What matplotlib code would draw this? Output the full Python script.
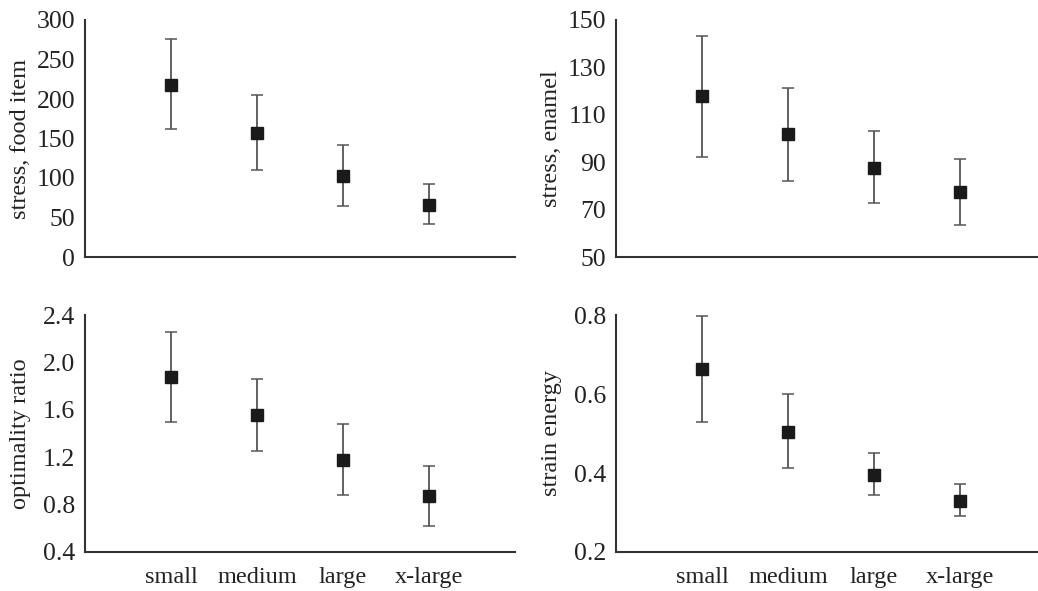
import numpy as np
import matplotlib.pyplot as plt

# size classes
sizes = ["small", "medium", "large", "x-large"]

# stress, food item
food_mean = [218, 157, 102, 66]
food_low = [162, 110, 65, 42]
food_high = [276, 205, 142, 92]

# stress, enamel
enamel_mean = [118, 102, 87.5, 77.4]
enamel_low = [92.4, 82.1, 72.9, 63.3]
enamel_high = [143.2, 121.3, 103, 91.3]

# optimality ratio
ratio_mean = [1.88, 1.555, 1.175, 0.87]
ratio_low = [1.50, 1.254, 0.884, 0.62]
ratio_high = [2.256, 1.859, 1.476, 1.124]

# strain energy
strain_mean = [0.663, 0.505, 0.396, 0.329]
strain_low = [0.530, 0.412, 0.344, 0.290]
strain_high = [0.798, 0.601, 0.450, 0.371]

plt.rcParams['font.family'] = ['Liberation Serif', 'DejaVu Serif']
plt.rcParams['font.size'] = 17.5

fig = plt.figure(figsize=(10.38, 5.91), dpi=100)

W, H = 1038, 591
boxes = [
    (85, 20, 515, 257),
    (616, 20, 1037, 257),
    (85, 315, 515, 552),
    (616, 315, 1037, 552),
]

panels = [
    (food_mean, food_low, food_high, "stress, food item", (0, 300), [0, 50, 100, 150, 200, 250, 300], "{:.0f}"),
    (enamel_mean, enamel_low, enamel_high, "stress, enamel", (50, 150), [50, 70, 90, 110, 130, 150], "{:.0f}"),
    (ratio_mean, ratio_low, ratio_high, "optimality ratio", (0.4, 2.4), [0.4, 0.8, 1.2, 1.6, 2.0, 2.4], "{:.1f}"),
    (strain_mean, strain_low, strain_high, "strain energy", (0.2, 0.8), [0.2, 0.4, 0.6, 0.8], "{:.1f}"),
]

x = np.arange(1, len(sizes) + 1)

for i, ((mean, low, high, label, ylim, yt, fmt), (l, t, r, b)) in enumerate(zip(panels, boxes)):
    ax = fig.add_axes([l / W, 1 - b / H, (r - l) / W, (b - t) / H])
    mean = np.array(mean)
    err = [mean - np.array(low), np.array(high) - mean]
    ax.errorbar(x, mean, yerr=err, fmt='none', ecolor='#555555', elinewidth=1.3,
                capsize=4, capthick=1.1, zorder=2)
    ax.plot(x, mean, 's', color='#1a1a1a', markersize=8.5, zorder=3)
    # x-range so that the category spacing is 86 px
    ax.set_xlim(0, (r - l) / 86.0)
    ax.set_ylim(*ylim)
    ax.set_yticks(yt)
    ax.set_yticklabels([fmt.format(v) for v in yt])
    ax.set_xticks(x)
    if i >= 2:
        ax.set_xticklabels(sizes)
    else:
        ax.set_xticklabels([])
    ax.tick_params(length=0, colors='#222222')
    ax.tick_params(axis='y', labelsize=18.5, pad=7)
    ax.tick_params(axis='x', labelsize=17.5, pad=11)
    for s in ['top', 'right']:
        ax.spines[s].set_visible(False)
    for s in ['left', 'bottom']:
        ax.spines[s].set_color('#333333')
        ax.spines[s].set_linewidth(1.5)
    ax.set_ylabel(label, color='#222222', fontsize=17.5)
    ax.yaxis.set_label_coords(-54.0 / (r - l), 0.5)

fig.savefig("out.png", dpi=100, facecolor='white')
